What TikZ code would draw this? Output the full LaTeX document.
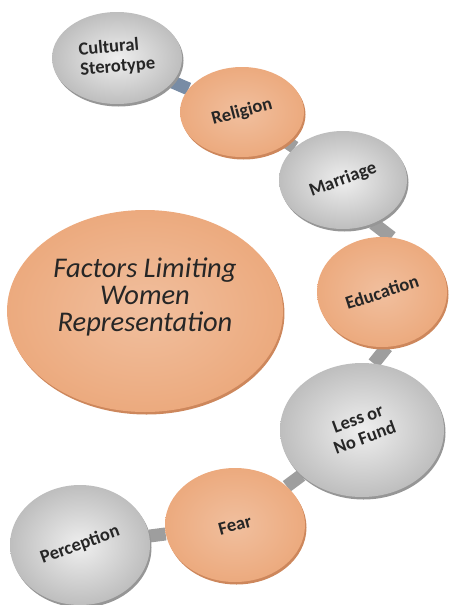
\documentclass[tikz,border=0pt]{standalone}
\usepackage{fontspec}
\setmainfont{Carlito}
\usetikzlibrary{shapes.geometric,shadows,backgrounds}
\definecolor{peach}{RGB}{236,170,126}
\definecolor{peachrim}{RGB}{205,135,92}
\definecolor{discgrey}{RGB}{190,190,190}
\definecolor{greyrim}{RGB}{150,150,150}
\definecolor{barblue}{RGB}{120,140,165}
\tikzset{
  disc/.style={ellipse,inner sep=0pt,font=\bfseries\fontsize{18.5}{20}\selectfont,text=black!85},
  greydisc/.style={disc,inner color=discgrey!25!white,outer color=discgrey,
    drop shadow={shadow xshift=1.5pt,shadow yshift=-2.5pt,fill=greyrim,opacity=1}},
  peachdisc/.style={disc,inner color=peach!75!white,outer color=peach,
    drop shadow={shadow xshift=1.5pt,shadow yshift=-2.5pt,fill=peachrim,opacity=1}},
  bar/.style={line width=13pt,draw=black!38},
}
\begin{document}
\begin{tikzpicture}[x=1pt,y=-1pt]
\useasboundingbox (0,0) rectangle (448,605);
% the core
\node[peachdisc,minimum width=264pt,minimum height=202pt,font=\itshape\fontsize{28.5}{27}\selectfont] (core) at (145,311)
  {\raisebox{6pt}[0pt][0pt]{\begin{tabular}{c}Factors Limiting\\Women\\Representation\end{tabular}}};
% the chain of factors
\node[greydisc,minimum width=130pt,minimum height=92pt] (cult) at (117,58)
  {\rotatebox{5}{\begin{tabular}{@{}l@{}}Cultural\\Sterotype\end{tabular}}};
\node[peachdisc,minimum width=124pt,minimum height=90pt] (rel) at (242,112) {\rotatebox{15}{Religion}};
\node[greydisc,minimum width=128pt,minimum height=98pt] (mar) at (343,180) {\rotatebox{20}{Marriage}};
\node[peachdisc,minimum width=130pt,minimum height=110pt] (edu) at (382,292) {\rotatebox{18}{Education}};
\node[greydisc,minimum width=164pt,minimum height=134pt] (fund) at (362,430)
  {\rotatebox{20}{\begin{tabular}{c}Less or\\No Fund\end{tabular}}};
\node[peachdisc,minimum width=140pt,minimum height=114pt] (fear) at (235,525) {\rotatebox{15}{Fear}};
\node[greydisc,minimum width=140pt,minimum height=120pt] (perc) at (80,545) {\rotatebox{20}{Perception}};
% links behind the discs
\begin{scope}[on background layer]
\draw[bar,draw=barblue] (cult) -- (rel);
\draw[bar] (rel) -- (mar);
\draw[bar] (mar.-55) -- (edu.80);
\draw[bar] (edu.-85) -- (fund.80);
\draw[bar] (fund) -- (fear);
\draw[bar] (fear) -- (perc);
\end{scope}
\end{tikzpicture}
\end{document}
